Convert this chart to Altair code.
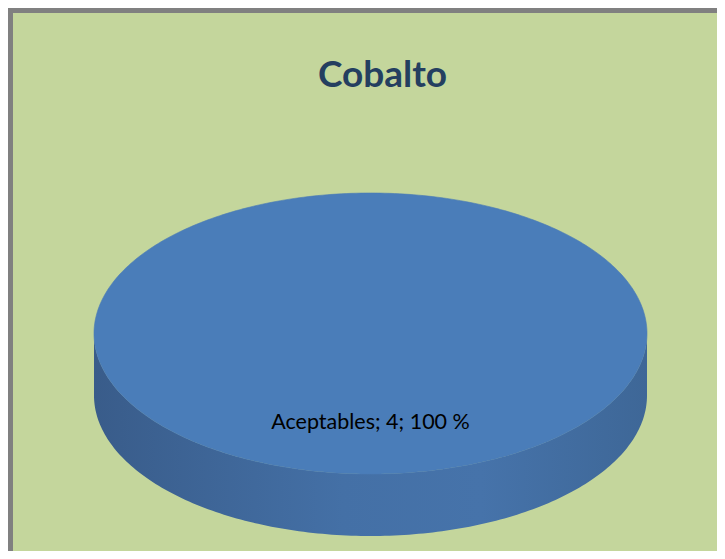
import altair as alt
import numpy as np
import pandas as pd

# ---- data ----
categories = ["Aceptables"]
values = [4]
title_text = ["Cobalto"]

# ---- layout (pixels inside the chart) ----
W, H = 709, 543
CX, CY, RX, RY, DEPTH = 362.5, 325.5, 276.5, 140.5, 62.0
LABEL_R = 0.64

total = float(sum(values))
top_rows, side_rows, lab_rows = [], [], []
start = 0.0
for cat, v in zip(categories, values):
    frac = v / total
    end = start + frac * 360.0
    n = max(int(frac * 360), 2)
    ang = np.radians(np.linspace(start, end, n + 1))
    i = 0
    if frac < 1:
        top_rows.append({"cat": cat, "i": i, "x": CX, "y": CY}); i += 1
    for a in ang:
        top_rows.append({"cat": cat, "i": i, "x": CX + RX * np.sin(a), "y": CY - RY * np.cos(a)}); i += 1
    lo, hi = max(start, 90.0), min(end, 270.0)
    if hi > lo:
        sa = np.radians(np.linspace(lo, hi, int(hi - lo) + 1))
        j = 0
        for a in sa:
            side_rows.append({"cat": cat, "i": j, "x": CX + RX * np.sin(a), "y": CY - RY * np.cos(a)}); j += 1
        for a in sa[::-1]:
            side_rows.append({"cat": cat, "i": j, "x": CX + RX * np.sin(a), "y": CY - RY * np.cos(a) + DEPTH}); j += 1
    mid = np.radians((start + end) / 2)
    lab_rows.append({
        "cat": cat,
        "x": CX + LABEL_R * RX * np.sin(mid),
        "y": CY - LABEL_R * RY * np.cos(mid),
        "label": f"{cat}; {v}; {round(frac * 100)} %",
    })
    start = end

top_df = pd.DataFrame(top_rows)
side_df = pd.DataFrame(side_rows)
lab_df = pd.DataFrame(lab_rows)

xs = alt.Scale(domain=[0, W], nice=False, zero=False)
ys = alt.Scale(domain=[0, H], nice=False, zero=False, reverse=True)
X = alt.X("x:Q", scale=xs, axis=None)
Y = alt.Y("y:Q", scale=ys, axis=None)

side = alt.Chart(side_df).mark_line(
    fill=alt.Gradient(
        gradient="linear", x1=0, x2=1, y1=0, y2=0,
        stops=[
            alt.GradientStop(offset=0, color="#395c8a"),
            alt.GradientStop(offset=0.45, color="#4470a6"),
            alt.GradientStop(offset=0.7, color="#4673aa"),
            alt.GradientStop(offset=1, color="#3e6797"),
        ],
    ),
    strokeWidth=0,
).encode(x=X, y=Y, order=alt.Order("i:Q"), detail="cat:N")

top = alt.Chart(top_df).mark_line(
    fill="#4a7db9", stroke="#4a7bb6", strokeWidth=0.6
).encode(x=X, y=Y, order=alt.Order("i:Q"), detail="cat:N")

labels = alt.Chart(lab_df).mark_text(
    font="Lato", fontSize=21.5, color="#000000", baseline="middle", align="center"
).encode(x=X, y=Y, text="label:N")

title = alt.Chart(pd.DataFrame({"t": title_text})).mark_text(
    font="Lato", fontSize=37, fontWeight="bold", color="#243f60",
    baseline="alphabetic", align="center"
).encode(x=alt.value(374.5), y=alt.value(79), text="t:N")

one = pd.DataFrame({"a": [0]})
border_left = alt.Chart(one).mark_rule(color="#808080", strokeWidth=5).encode(
    x=alt.value(2.5), y=alt.value(0), y2=alt.value(H)
)
border_top = alt.Chart(one).mark_rule(color="#808080", strokeWidth=5).encode(
    y=alt.value(2.5), x=alt.value(0), x2=alt.value(W)
)

chart = alt.layer(side, top, labels, title, border_left, border_top).properties(
    width=W, height=H, padding=0, autosize="none", background="#c4d69c"
).configure_view(strokeWidth=0)

chart.save("out.html", embed_options={"renderer": "svg", "actions": False})
